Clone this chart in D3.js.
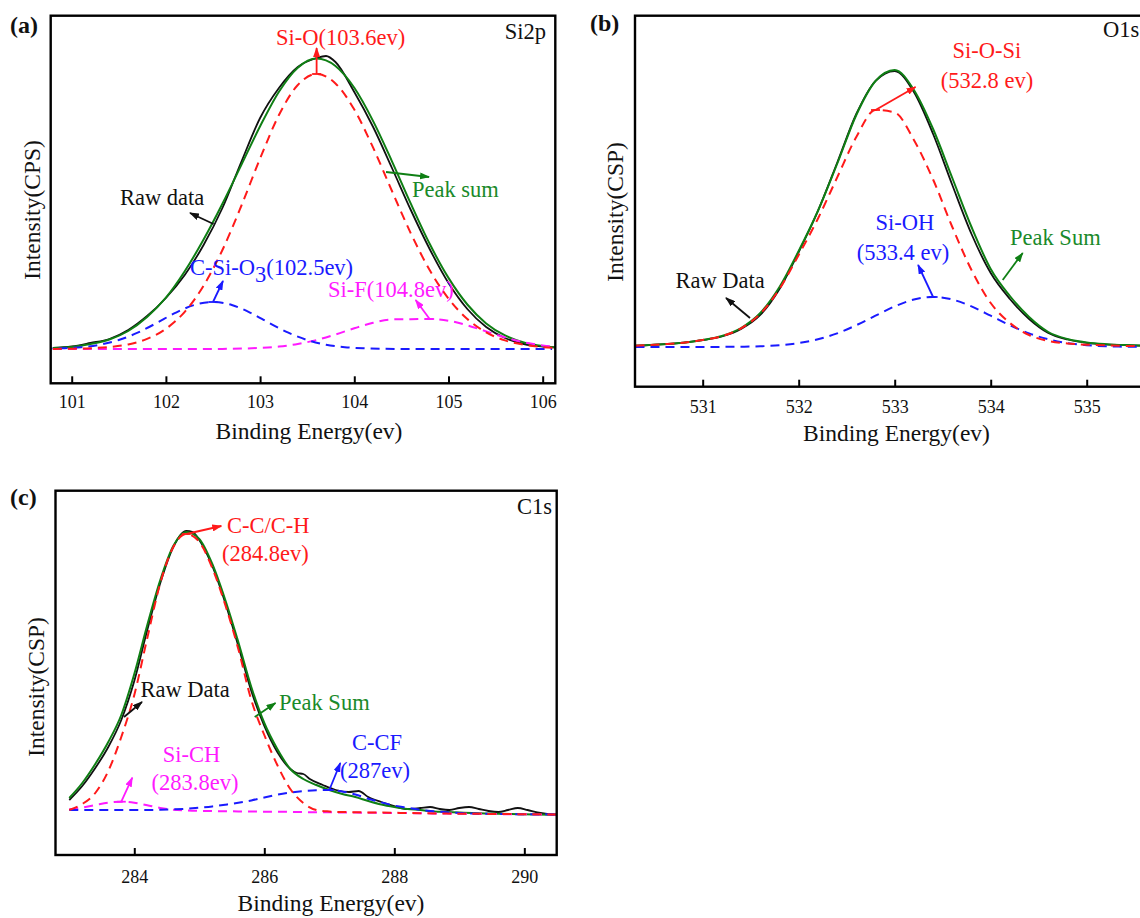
<!DOCTYPE html>
<html>
<head>
<meta charset="utf-8">
<script src="https://cdn.jsdelivr.net/npm/d3@7"></script>
<style>
  html, body { margin: 0; padding: 0; background: #fff; }
  svg { display: block; }
  text { font-family: "Liberation Serif", "Times New Roman", serif; }
</style>
</head>
<body>
<svg id="fig" width="1140" height="918"></svg>
<script>
// ---------------- Si2p (panel a) ----------------
const energyA = [100.8,101.0,101.2,101.4,101.6,101.8,102.0,102.2,102.4,102.6,102.8,103.0,103.2,103.4,103.6,103.8,104.0,104.2,104.4,104.6,104.8,105.0,105.2,105.4,105.6,105.8,106.0,106.2];
const siO_A = [0.1,0.3,0.8,2.0,4.6,10.1,20.2,37.2,63.3,99,143,190.5,234,264,275,265.6,239.4,201.3,158,115.7,79,50.4,30,16.6,8.6,4.2,1.9,0.8];
const siF_A = [0,0,0,0,0,0,0,0,0,0.1,0.4,1.1,2.4,5.0,9.0,14.5,20.7,26.2,29.6,29.8,30,28.3,23.7,17.6,11.6,6.8,3.5,1.6];
const peakSumA = [1,2,5,9.5,18,32,51.3,77.7,109.5,145.3,183.9,222.7,257.3,281.3,290.4,283,261.2,227.9,187.7,145.3,105.2,71.1,44.5,25.6,13.6,6.6,3,1.2];
const energyA2 = [100.7,100.9,101.1,101.3,101.5,101.7,101.9,102.1,102.3,102.5,102.7,102.9,103.1,103.3,103.5,103.7,103.9,104.1,104.3,104.5,104.7,104.9,105.1,105.3,105.5,105.7,105.9,106.1];
const cSiO3_A = [0.2,0.7,1.8,4.3,9.0,16.3,25.9,36.1,44,47,44,36.1,25.9,16.3,9.0,4.3,1.8,0.7,0.2,0,0,0,0,0,0,0,0,0];
const rawEnergyA = [100.8,101.0,101.2,101.4,101.6,101.8,102.0,102.2,102.4,102.6,102.8,103.0,103.2,103.4,103.6,103.7,103.8,104.0,104.2,104.4,104.6,104.8,105.0,105.2,105.4,105.6,105.8,106.0,106.2];
const rawA = [1,2.5,6,10,19,33,51,74,104,141,187,231,261,282,291,293,287,257,222,181,139,100,66,40,22,11,5,2.5,1.5];
const ticksA = [101,102,103,104,105,106];
const peakPosA = { siO: 103.6, cSiO3: 102.5, siF: 104.8 };

// ---------------- O1s (panel b) ----------------
const energyB = [530.3,530.4,530.6,530.8,531.0,531.2,531.4,531.6,531.8,532.0,532.2,532.4,532.6,532.8,533.0,533.2,533.4,533.6,533.8,534.0,534.2,534.4,534.6,534.8,535.0,535.2,535.4,535.6,535.8];
const siOSi_B = [1.3,1.7,2.8,4.3,7,10.9,18.7,33.3,58.2,92.1,128.3,169.4,210,237,234.5,207,167.5,120,77,44,24,12,6,3.5,2.3,1.6,1.1,0.8,0.5];
const siOH_B = [0,0,0,0,0,0.1,0.3,0.7,1.8,3.9,7.7,13.6,21.8,31.3,40.6,47.5,50,47.5,40.6,31.3,21.8,13.6,7.7,3.9,1.8,0.7,0.3,0.1,0];
const peakSumB = [1.3,1.7,2.8,4.3,7,11,19,34,60,96,136,183,232,266,277,257,218,169,120,78,51,30,15,8,4.5,2.8,1.9,1.4,1];
const rawB = [1.3,1.7,2.8,4.3,6.8,10.5,18,32,58,95,136,184,233,266,276,255,213,162,113,74,48,28,14,7.5,4.2,2.6,1.8,1.3,1];
const ticksB = [531,532,533,534,535];
const peakPosB = { siOSi: 532.8, siOH: 533.4 };

// ---------------- C1s (panel c) ----------------
const energyC = [283.0,283.2,283.4,283.6,283.8,284.0,284.2,284.4,284.6,284.8,285.0,285.2,285.4,285.6,285.8,286.0,286.2,286.4,286.6,286.8,287.0,287.2,287.4,287.6,287.8,288.0,288.2,288.4,288.6,288.8,289.0,289.2,289.4,289.6,289.8,290.0,290.2,290.4,290.6];
const ccch_C = [5,11,22,44,78,120,177,232,268,281,273,247,210,166,115,80,50,26,12,5,3.5,3,2.8,2.6,2.4,2.2,2,1.8,1.6,1.4,1.3,1.2,1.1,1,0.9,0.8,0.7,0.6,0.5];
const siCH_C = [5.7,7.4,9.9,12.3,13.3,12.2,9.7,7.1,5.3,4.5,4.1,3.9,3.7,3.6,3.5,3.3,3.2,3.1,2.9,2.8,2.7,2.5,2.4,2.3,2.1,2.0,1.9,1.7,1.6,1.5,1.3,1.2,1.1,0.9,0.8,0.7,0.5,0.4,0.3];
const cCF_C = [5,5,5,5,5,5,5,5.2,5.6,6.3,7.3,8.6,10.3,12.2,14.6,17.5,20.3,22.5,24,24.8,25,23.5,20.5,16.3,12.6,9.4,7.2,5.2,3.8,2.7,2,1.5,1.2,1,0.9,0.8,0.7,0.6,0.5];
const peakSumC = [17,32,51,73,100,141,190,235,269,283,276,251,215,173,128,92,66,46,36,30,25,21,18,14,10.5,8,6,5,3.6,3,2.5,2,1.6,1.2,1,0.7,0.4,0.2,0];
const rawEnergyC = [283.0,283.2,283.4,283.6,283.8,284.0,284.2,284.4,284.6,284.8,284.9,285.0,285.2,285.4,285.6,285.8,286.0,286.2,286.4,286.5,286.6,286.7,286.9,287.1,287.3,287.45,287.6,287.8,288.0,288.2,288.4,288.55,288.7,288.85,289.0,289.15,289.3,289.45,289.6,289.75,289.9,290.05,290.2,290.35,290.5];
const rawC = [15,29,47,68,95,134,185,232,268,284,283,275,249,212,169,124,89,63,46,42,41,36,30,25,23,24,18,13,9,6,7,8,6,5,7,8,6,4,3,5,7,5,2.5,1,0.5];
const ticksC = [284,286,288,290];
const peakPosC = { ccch: 284.8, siCH: 283.8, cCF: 287 };

// ---------------- colours ----------------
const RED = "#ff1a1a", BLUE = "#1a1aff", MAGENTA = "#ff1aff", GREEN = "#0f7f14", GREEN_TXT = "#1a8a2a", BLACK = "#111";

const svg = d3.select("#fig");
const defs = svg.append("defs");

// arrowheads
[["red", RED], ["blue", BLUE], ["mag", MAGENTA], ["green", GREEN], ["black", BLACK]].forEach(([k, c]) => {
  defs.append("marker")
    .attr("id", "ah-" + k)
    .attr("viewBox", "0 0 10 7")
    .attr("refX", 9).attr("refY", 3.5)
    .attr("markerWidth", 10).attr("markerHeight", 7)
    .attr("markerUnits", "userSpaceOnUse")
    .attr("orient", "auto")
    .append("path").attr("d", "M0,0 L10,3.5 L0,7 Z").attr("fill", c);
});
const markerOf = { [RED]: "red", [BLUE]: "blue", [MAGENTA]: "mag", [GREEN]: "green", [BLACK]: "black" };

const pairs = (xs, ys) => xs.map((x, i) => [x, ys[i]]);
const valueAt = (xs, ys, e) => ys[xs.findIndex(v => Math.abs(v - e) < 1e-9)];

function drawPanel(p) {
  const f = p.frame;
  const x = d3.scaleLinear().domain(p.xDomain).range([f.x0, f.x1]);
  const y = d3.scaleLinear().domain(p.yDomain).range([f.y1, f.y0]);
  const g = svg.append("g");

  defs.append("clipPath").attr("id", "clip-" + p.id)
    .append("rect").attr("x", f.x0).attr("y", f.y0)
    .attr("width", f.x1 - f.x0).attr("height", f.y1 - f.y0);

  const line = d3.line().x(d => x(d[0])).y(d => y(d[1])).curve(d3.curveMonotoneX);
  const plot = g.append("g").attr("clip-path", `url(#clip-${p.id})`);

  p.series.forEach(s => {
    plot.append("path")
      .attr("d", line(pairs(s.x, s.y)))
      .attr("fill", "none")
      .attr("stroke", s.color)
      .attr("stroke-width", s.width)
      .attr("stroke-dasharray", s.dash || null)
      .attr("stroke-linejoin", "round");
  });

  // frame
  g.append("rect").attr("x", f.x0).attr("y", f.y0)
    .attr("width", f.x1 - f.x0).attr("height", f.y1 - f.y0)
    .attr("fill", "none").attr("stroke", "#000").attr("stroke-width", 2.4);

  // bottom axis with inward ticks
  const ax = g.append("g").attr("transform", `translate(0,${f.y1})`)
    .call(d3.axisBottom(x).tickValues(p.ticks).tickFormat(d3.format("d"))
      .tickSizeInner(-7).tickSizeOuter(0).tickPadding(p.tickPad));
  ax.select(".domain").remove();
  ax.selectAll(".tick line").attr("stroke", "#000").attr("stroke-width", 2);
  ax.selectAll(".tick text").attr("fill", "#111").style("font-size", "18px")
    .style("font-family", '"Liberation Serif","Times New Roman",serif');

  // axis titles
  g.append("text").attr("x", p.xTitle.x).attr("y", p.xTitle.y)
    .attr("text-anchor", "middle").style("font-size", "23.5px").attr("fill", "#111")
    .text("Binding Energy(ev)");
  g.append("text").attr("transform", `translate(${p.yTitle.x},${p.yTitle.y}) rotate(-90)`)
    .attr("text-anchor", "middle").attr("dominant-baseline", "central")
    .style("font-size", "23.5px").attr("fill", "#111").text(p.yTitle.text);

  // panel letter and core-level tag
  g.append("text").attr("x", p.letter.x).attr("y", p.letter.y)
    .style("font-size", "24px").style("font-weight", "bold").attr("fill", "#111").text(p.letter.text);
  g.append("text").attr("x", p.tag.x).attr("y", p.tag.y).attr("text-anchor", p.tag.anchor)
    .style("font-size", "22.5px").attr("fill", "#111").text(p.tag.text);

  // arrows from component peaks
  p.peakArrows.forEach(a => {
    const bx = x(a.energy), by = y(valueAt(a.xs, a.ys, a.energy));
    g.append("line").attr("x1", bx - 4.5).attr("x2", bx + 4.5).attr("y1", by).attr("y2", by)
      .attr("stroke", a.color).attr("stroke-width", 1.8);
    g.append("line").attr("x1", bx).attr("y1", by).attr("x2", bx + a.dx).attr("y2", by + a.dy)
      .attr("stroke", a.color).attr("stroke-width", 1.8)
      .attr("marker-end", `url(#ah-${markerOf[a.color]})`);
  });

  // pointer arrows for the raw data / peak sum captions
  p.pointers.forEach(a => {
    g.append("line").attr("x1", a.x1).attr("y1", a.y1).attr("x2", a.x2).attr("y2", a.y2)
      .attr("stroke", a.color).attr("stroke-width", 1.8)
      .attr("marker-end", `url(#ah-${markerOf[a.color]})`);
  });

  // captions
  p.labels.forEach(l => {
    const t = g.append("text").attr("x", l.x).attr("y", l.y)
      .attr("text-anchor", l.anchor || "start")
      .style("font-size", "22.5px").attr("fill", l.fill || l.color);
    l.parts.forEach(part => {
      const ts = t.append("tspan").text(part.t);
      if (part.dy) ts.attr("dy", part.dy);
    });
  });
}

const panels = [
  {
    id: "a",
    frame: { x0: 50.7, x1: 555.3, y0: 15.7, y1: 383.3 },
    xDomain: [100.777, 106.134], yDomain: [-34.3, 333.3],
    ticks: ticksA, tickPad: 12,
    xTitle: { x: 309, y: 439 }, yTitle: { x: 32, y: 210, text: "Intensity(CPS)" },
    letter: { x: 10, y: 33, text: "(a)" }, tag: { x: 546, y: 39, anchor: "end", text: "Si2p" },
    series: [
      { x: rawEnergyA, y: rawA, color: BLACK, width: 1.8 },
      { x: energyA, y: peakSumA, color: GREEN, width: 2 },
      { x: energyA, y: siF_A, color: MAGENTA, width: 2, dash: "9,6" },
      { x: energyA2, y: cSiO3_A, color: BLUE, width: 2, dash: "9,6" },
      { x: energyA, y: siO_A, color: RED, width: 2, dash: "9,6" }
    ],
    peakArrows: [
      { energy: peakPosA.siO, xs: energyA, ys: siO_A, color: RED, dx: 0, dy: -26 },
      { energy: peakPosA.cSiO3, xs: energyA2, ys: cSiO3_A, color: BLUE, dx: 10, dy: -21 },
      { energy: peakPosA.siF, xs: energyA, ys: siF_A, color: MAGENTA, dx: -14, dy: -19 }
    ],
    pointers: [
      { x1: 213.5, y1: 224, x2: 190, y2: 213, color: BLACK },
      { x1: 386, y1: 172, x2: 429, y2: 177, color: GREEN }
    ],
    labels: [
      { x: 276, y: 45, color: RED, parts: [{ t: `Si-O(${peakPosA.siO}ev)` }] },
      { x: 190, y: 275, color: BLUE, parts: [{ t: "C-Si-O" }, { t: "3", dy: 7 }, { t: `(${peakPosA.cSiO3}ev)`, dy: -7 }] },
      { x: 328, y: 297, color: MAGENTA, parts: [{ t: `Si-F(${peakPosA.siF}ev)` }] },
      { x: 120, y: 205, color: BLACK, parts: [{ t: "Raw data" }] },
      { x: 412, y: 197, color: GREEN_TXT, parts: [{ t: "Peak sum" }] }
    ]
  },
  {
    id: "b",
    frame: { x0: 635, x1: 1147, y0: 15.7, y1: 386.7 },
    xDomain: [530.295, 535.628], yDomain: [-39.7, 331.3],
    ticks: ticksB, tickPad: 13.5,
    xTitle: { x: 896.5, y: 441 }, yTitle: { x: 615, y: 212, text: "Intensity(CSP)" },
    letter: { x: 590, y: 31, text: "(b)" }, tag: { x: 1103, y: 37, anchor: "start", text: "O1s" },
    series: [
      { x: energyB, y: rawB, color: BLACK, width: 1.8 },
      { x: energyB, y: peakSumB, color: GREEN, width: 2 },
      { x: energyB, y: siOH_B, color: BLUE, width: 2, dash: "9,6" },
      { x: energyB, y: siOSi_B, color: RED, width: 2, dash: "9,6" }
    ],
    peakArrows: [
      { energy: peakPosB.siOSi, xs: energyB, ys: siOSi_B, color: RED, dx: 40, dy: -23 },
      { energy: peakPosB.siOH, xs: energyB, ys: siOH_B, color: BLUE, dx: -15, dy: -32 }
    ],
    pointers: [
      { x1: 750, y1: 318, x2: 726, y2: 298, color: BLACK },
      { x1: 1002.7, y1: 280, x2: 1022.7, y2: 253, color: GREEN }
    ],
    labels: [
      { x: 987, y: 58, anchor: "middle", color: RED, parts: [{ t: "Si-O-Si" }] },
      { x: 987, y: 88, anchor: "middle", color: RED, parts: [{ t: `(${peakPosB.siOSi} ev)` }] },
      { x: 905, y: 230, anchor: "middle", color: BLUE, parts: [{ t: "Si-OH" }] },
      { x: 903, y: 260, anchor: "middle", color: BLUE, parts: [{ t: `(${peakPosB.siOH} ev)` }] },
      { x: 675.5, y: 288, color: BLACK, parts: [{ t: "Raw Data" }] },
      { x: 1010, y: 245, color: GREEN_TXT, parts: [{ t: "Peak Sum" }] }
    ]
  },
  {
    id: "c",
    frame: { x0: 55.5, x1: 556.7, y0: 490.7, y1: 855 },
    xDomain: [282.788, 290.498], yDomain: [-40, 324.3],
    ticks: ticksC, tickPad: 15,
    xTitle: { x: 331, y: 911 }, yTitle: { x: 35.5, y: 687, text: "Intensity(CSP)" },
    letter: { x: 10, y: 505, text: "(c)" }, tag: { x: 552, y: 514, anchor: "end", text: "C1s" },
    series: [
      { x: rawEnergyC, y: rawC, color: BLACK, width: 1.8 },
      { x: energyC, y: peakSumC, color: GREEN, width: 2 },
      { x: energyC, y: siCH_C, color: MAGENTA, width: 2, dash: "9,6" },
      { x: energyC, y: cCF_C, color: BLUE, width: 2, dash: "9,6" },
      { x: energyC, y: ccch_C, color: RED, width: 2, dash: "9,6" }
    ],
    peakArrows: [
      { energy: peakPosC.ccch, xs: energyC, ys: ccch_C, color: RED, dx: 35, dy: -8 },
      { energy: peakPosC.siCH, xs: energyC, ys: siCH_C, color: MAGENTA, dx: 11, dy: -24 },
      { energy: peakPosC.cCF, xs: energyC, ys: cCF_C, color: BLUE, dx: 11, dy: -27 }
    ],
    pointers: [
      { x1: 124, y1: 717, x2: 142, y2: 702, color: BLACK },
      { x1: 254.7, y1: 717, x2: 275.5, y2: 703, color: GREEN }
    ],
    labels: [
      { x: 227, y: 533, color: RED, parts: [{ t: "C-C/C-H" }] },
      { x: 222, y: 561, color: RED, parts: [{ t: `(${peakPosC.ccch}ev)` }] },
      { x: 191.5, y: 762, anchor: "middle", color: MAGENTA, parts: [{ t: "Si-CH" }] },
      { x: 195, y: 790, anchor: "middle", color: MAGENTA, parts: [{ t: `(${peakPosC.siCH}ev)` }] },
      { x: 377, y: 750, anchor: "middle", color: BLUE, parts: [{ t: "C-CF" }] },
      { x: 375, y: 778, anchor: "middle", color: BLUE, parts: [{ t: `(${peakPosC.cCF}ev)` }] },
      { x: 140.5, y: 697, color: BLACK, parts: [{ t: "Raw Data" }] },
      { x: 279, y: 710, color: GREEN_TXT, parts: [{ t: "Peak Sum" }] }
    ]
  }
];

panels.forEach(drawPanel);
</script>
</body>
</html>
